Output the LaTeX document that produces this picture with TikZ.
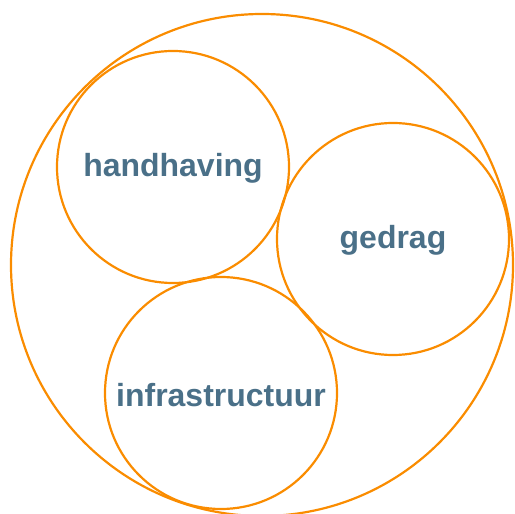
\documentclass[tikz,border=0pt]{standalone}
\usepackage{fontspec}
\setmainfont{Liberation Sans}
\definecolor{ringorange}{RGB}{250,140,0}
\definecolor{labelblue}{RGB}{74,112,136}
\tikzset{
  ring/.style={draw=ringorange, line width=1.25pt},
  label/.style={text=labelblue, font=\fontsize{18.2}{21}\selectfont\bfseries}
}
\begin{document}
\begin{tikzpicture}[scale=0.02] % handhaving, gedrag, infrastructuur
\def\bigcircle{(262,-265) circle (251)}
\def\handcircle{(173,-167) circle (116)}
\def\gedragcircle{(393,-239) circle (116)}
\def\infracircle{(221,-393) circle (116)}
    \useasboundingbox (0,0) rectangle (515,-514);
    \draw[ring] \bigcircle;
    \draw[ring] \handcircle node[label, yshift=-1pt] (handhaving) {handhaving};
    \draw[ring] \gedragcircle node[label, yshift=-1pt] (gedrag) {gedrag};
    \draw[ring] \infracircle node[label, yshift=-1pt] (infra) {infrastructuur};
\end{tikzpicture}
\end{document}
